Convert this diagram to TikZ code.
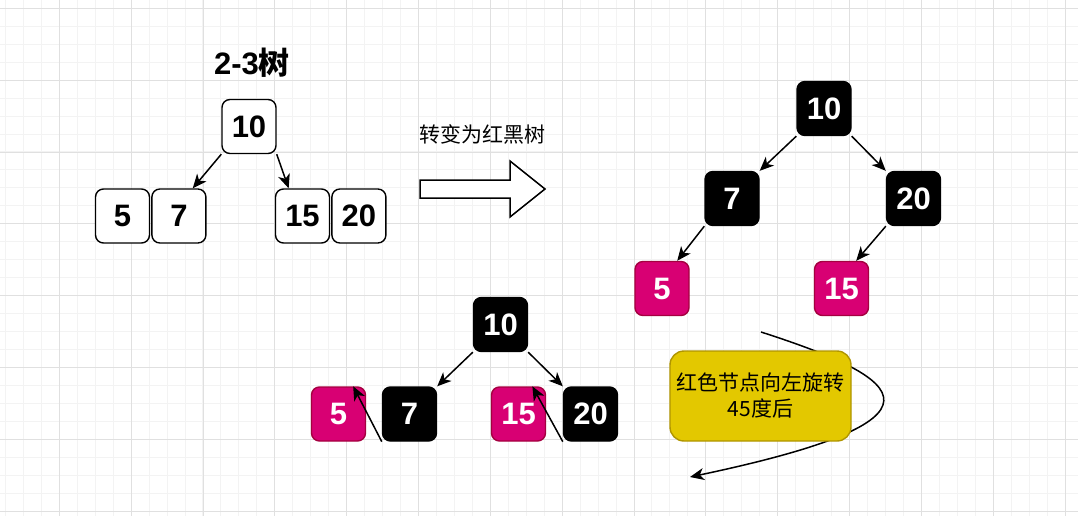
\documentclass[tikz,border=0pt]{standalone}
\usepackage{fontspec}
\setmainfont{Liberation Sans}
\newfontfamily\cjk{Noto Sans CJK SC}
\usepackage{tikz}
\usetikzlibrary{arrows.meta, positioning, calc}
\definecolor{gridMajor}{HTML}{E0E0E0}
\definecolor{gridMinor}{HTML}{F3F3F3}
\definecolor{nodeRed}{HTML}{D80073}
\definecolor{nodeRedLine}{HTML}{A50040}
\definecolor{noteFill}{HTML}{E3C800}
\definecolor{noteLine}{HTML}{B09500}

\begin{document}
\begin{tikzpicture}[x=1pt, y=-1pt,
    every node/.style={font=\bfseries\fontsize{31}{37}\selectfont},
    keybox/.style={draw, line width=1.4pt, rounded corners=8pt, fill=white,
      minimum width=54pt, minimum height=54pt, inner sep=0pt},
    blknode/.style={keybox, fill=black, text=white},
    rednode/.style={keybox, fill=nodeRed, draw=nodeRedLine, text=white},
    edge/.style={line width=1.5pt, -{Stealth[length=14pt, width=12pt, inset=4pt]}}]
  \useasboundingbox (0,0) rectangle (1078,516);
  % grid
  \foreach \i in {-1,...,28}
    \draw[gridMinor, line width=1pt] (0,8.3+17.96*\i) -- (1078,8.3+17.96*\i);
  \foreach \i in {-3,...,57}
    \draw[gridMinor, line width=1pt] (59.3+17.96*\i,0) -- (59.3+17.96*\i,516);
  \foreach \i in {0,...,7}
    \draw[gridMajor, line width=1pt] (0,8.3+71.85*\i) -- (1078,8.3+71.85*\i);
  \foreach \i in {0,...,14}
    \draw[gridMajor, line width=1pt] (59.3+71.85*\i,0) -- (59.3+71.85*\i,516);

  % 2-3 tree
  \node (title) at (252,63) {2-3{\cjk 树}};
  \node[keybox] (a10) at (249,126.5) {10};
  \node[keybox] (a5) at (122.5,216) {5};
  \node[keybox, right=1pt of a5] (a7) {7};
  \node[keybox] (a15) at (302.5,216) {15};
  \node[keybox, right=1pt of a15] (a20) {20};
  \draw[edge] (a10.south west) -- ($(a7.north)!0.5!(a7.north east)$);
  \draw[edge] (a10.south east) -- ($(a15.north west)!0.5!(a15.north)$);

  % transform arrow
  \node[font=\cjk\fontsize{21}{25}\selectfont] (conv) at (482,134) {转变为红黑树};
  \draw[line width=1.5pt, fill=white] (420,180) -- (510,180) -- (510,161) -- (545,189)
    -- (510,217) -- (510,198) -- (420,198) -- cycle;

  % red-black tree
  \node[blknode] (b10) at (824,108.5) {10};
  \node[blknode] (b7) at (732,198.5) {7};
  \node[blknode] (b20) at (913.5,198.5) {20};
  \node[rednode] (b5) at (662,288.5) {5};
  \node[rednode] (b15) at (841.5,288.5) {15};
  \draw[edge] (b10.south west) -- (b7.north east);
  \draw[edge] (b10.south east) -- (b20.north west);
  \draw[edge] (b7.south west) -- ($(b5.north)!0.55!(b5.north east)$);
  \draw[edge] (b20.south west) -- ($(b15.north)!0.53!(b15.north east)$);

  % rotation curve and note
  \coordinate (cs) at (761,332);
  \coordinate (ce) at (690,477);
  \draw[edge] (cs) .. controls (910,380) and (960,420) .. (ce);
  \node[draw=noteLine, fill=noteFill, line width=1.4pt, rounded corners=14pt,
    minimum width=181pt, minimum height=90pt, align=center,
    font=\cjk\fontsize{21}{26}\selectfont] (note) at (760.5,396)
    {红色节点向左旋转\\45度后};

  % rotated tree
  \node[blknode] (c10) at (500.5,324.5) {10};
  \node[rednode] (c5) at (338.5,414) {5};
  \node[blknode] (c7) at (409.5,414) {7};
  \node[rednode] (c15) at (518.5,414) {15};
  \node[blknode] (c20) at (590.5,414) {20};
  \draw[edge] (c10.south west) -- (c7.north east);
  \draw[edge] (c10.south east) -- (c20.north west);
  \draw[edge] (c7.south west) -- ($(c5.north)!0.53!(c5.north east)$);
  \draw[edge] (c20.south west) -- ($(c15.north)!0.5!(c15.north east)$);
\end{tikzpicture}
\end{document}
